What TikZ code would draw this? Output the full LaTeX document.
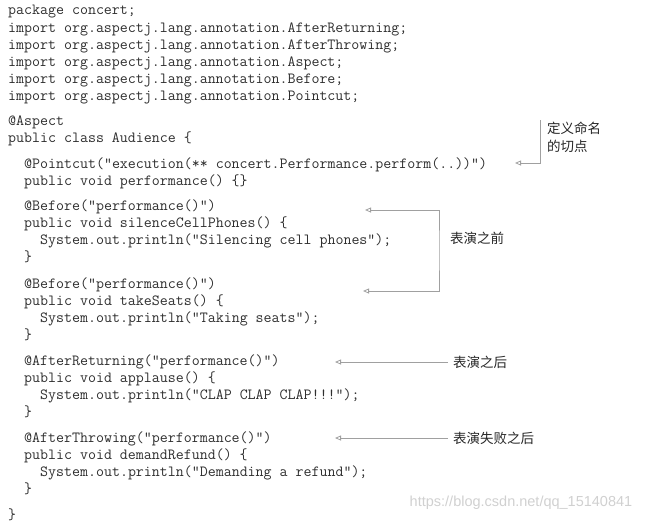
\documentclass[tikz,border=0pt]{standalone}
\usepackage{fontspec}
\newfontfamily\cjk{Noto Sans CJK SC}
\newfontfamily\wmfont{Liberation Sans}
\usetikzlibrary{arrows.meta}
\definecolor{codegray}{HTML}{2E2E2E}
\definecolor{linegray}{HTML}{A0A0A0}
\definecolor{wmgray}{HTML}{D0D0D0}
\begin{document}
\begin{tikzpicture}[x=1pt,y=-1pt,
  code/.style={anchor=base west,inner sep=0pt,font=\ttfamily\fontsize{15.5}{17}\selectfont,text=codegray},
  note/.style={anchor=west,inner sep=0pt,font=\cjk\fontsize{13.5}{18}\selectfont,text=black!85,align=left},
  conn/.style={draw=linegray,line width=0.8pt,-{Triangle[open,length=6pt,width=5pt]}},
  connb/.style={draw=linegray,line width=0.8pt,{Triangle[open,length=6pt,width=5pt]}-{Triangle[open,length=6pt,width=5pt]}}]
\useasboundingbox (0,0) rectangle (651,522);
% code lines
\node[code] (c1)  at (8,15)  {package concert;};
\node[code] (c2)  at (8,32)  {import org.aspectj.lang.annotation.AfterReturning;};
\node[code] (c3)  at (8,49)  {import org.aspectj.lang.annotation.AfterThrowing;};
\node[code] (c4)  at (8,66)  {import org.aspectj.lang.annotation.Aspect;};
\node[code] (c5)  at (8,83)  {import org.aspectj.lang.annotation.Before;};
\node[code] (c6)  at (8,100)  {import org.aspectj.lang.annotation.Pointcut;};
\node[code] (c7)  at (8,125) {@Aspect};
\node[code] (c8)  at (8,142) {public class Audience \{};
\node[code] (c9)  at (24,168) {@Pointcut("execution(** concert.Performance.perform(..))")};
\node[code] (c10) at (24,185) {public void performance() \{\}};
\node[code] (c11) at (24,210) {@Before("performance()")};
\node[code] (c12) at (24,227) {public void silenceCellPhones() \{};
\node[code] (c13) at (40,244) {System.out.println("Silencing cell phones");};
\node[code] (c14) at (24,261) {\}};
\node[code] (c15) at (24,288) {@Before("performance()")};
\node[code] (c16) at (24,305) {public void takeSeats() \{};
\node[code] (c17) at (40,322) {System.out.println("Taking seats");};
\node[code] (c18) at (24,339) {\}};
\node[code] (c19) at (24,365) {@AfterReturning("performance()")};
\node[code] (c20) at (24,382) {public void applause() \{};
\node[code] (c21) at (40,399) {System.out.println("CLAP CLAP CLAP!!!");};
\node[code] (c22) at (24,416) {\}};
\node[code] (c23) at (24,442) {@AfterThrowing("performance()")};
\node[code] (c24) at (24,459) {public void demandRefund() \{};
\node[code] (c25) at (40,476) {System.out.println("Demanding a refund");};
\node[code] (c26) at (24,493) {\}};
\node[code] (c27) at (8,519) {\}};
% annotations
\node[note] (nPC) at (547,137) {定义命名\\的切点};
\node[note] (nBefore) at (450,238) {表演之前};
\node[note] (nAfter) at (453,362) {表演之后};
\node[note] (nThrow) at (453,438) {表演失败之后};
% connector end points
\coordinate (pcTop) at (540,120);
\coordinate (pcTip) at (515,163);
\coordinate (bTip1) at (365,210);
\coordinate (bTip2) at (363,291);
\coordinate (bBar) at (439,250);
\coordinate (aTip) at (335,362);
\coordinate (tTip) at (335,438);
\draw[conn] (pcTop) |- (pcTip);
\draw[connb] (bTip1) -| (bBar) |- (bTip2);
\draw[conn] (nAfter.west) ++(-5,0) -- (aTip);
\draw[conn] (nThrow.west) ++(-5,0) -- (tTip);
% watermark
\node[anchor=center,inner sep=0pt,font=\wmfont\fontsize{14.5}{16}\selectfont,text=wmgray] (wm) at (521,503) {https://blog.csdn.net/qq\_15140841};
\end{tikzpicture}
\end{document}
